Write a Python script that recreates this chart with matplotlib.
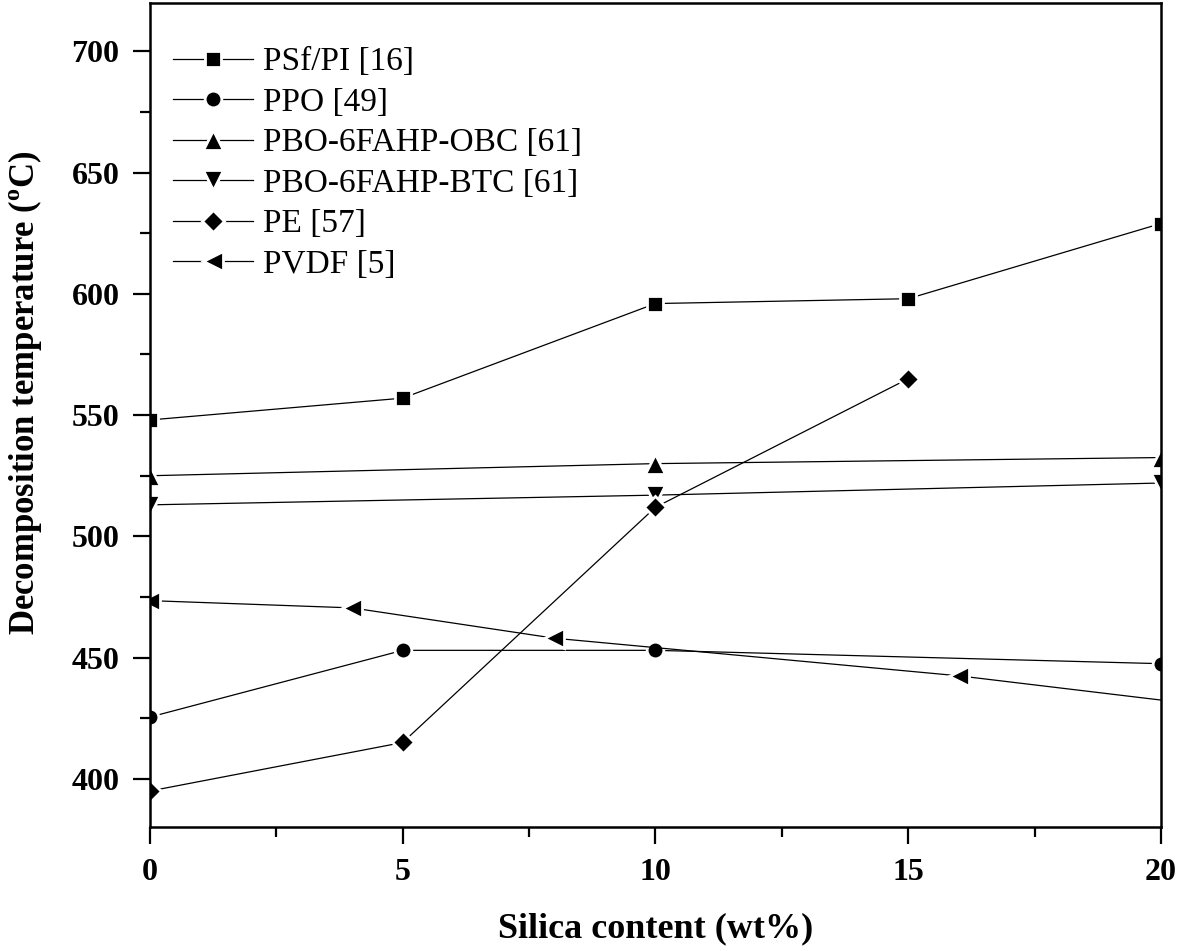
import matplotlib
matplotlib.use("Agg")
import matplotlib.pyplot as plt
from matplotlib.ticker import MultipleLocator

plt.rcParams['font.family'] = ['Liberation Serif', 'DejaVu Serif']
plt.rcParams['mathtext.fontset'] = 'custom'
plt.rcParams['mathtext.rm'] = 'Liberation Serif'
plt.rcParams['mathtext.bf'] = 'Liberation Serif:bold'

labels = ["PSf/PI [16]", "PPO [49]", "PBO-6FAHP-OBC [61]", "PBO-6FAHP-BTC [61]", "PE [57]", "PVDF [5]"]
markers = ["s", "o", "^", "v", "D", "<"]
msizes = [11, 12, 15, 15, 11, 15]

psf_x = [0, 5, 10, 15, 20]
psf_y = [548, 557, 596, 598, 629]
ppo_x = [0, 5, 10, 20]
ppo_y = [425.5, 453, 453, 447.5]
obc_x = [0, 10, 20]
obc_y = [525, 530, 532.5]
btc_x = [0, 10, 20]
btc_y = [513, 517, 522]
pe_x = [0, 5, 10, 15]
pe_y = [395, 415, 512, 565]
pvdf_x = [0, 4, 8, 16, 20]
pvdf_y = [473.5, 470.5, 458, 442.5, 432.5]

series = [(psf_x, psf_y), (ppo_x, ppo_y), (obc_x, obc_y), (btc_x, btc_y), (pe_x, pe_y), (pvdf_x, pvdf_y)]

fig = plt.figure(figsize=(11.81, 9.51), dpi=100)
ax = fig.add_axes([0.127, 0.130, 0.856, 0.867])

for (x, y), lab, m, ms in zip(series, labels, markers, msizes):
    me = list(range(len(x)))
    if lab.startswith("PVDF"):
        me = me[:-1]
    ax.plot(x, y, color='black', lw=0.9, marker=m, ms=ms, mfc='black',
            mec='white', mew=2.0, markevery=me, label=lab)

ax.set_xlim(0, 20)
ax.set_ylim(380, 720)
ax.xaxis.set_major_locator(MultipleLocator(5))
ax.xaxis.set_minor_locator(MultipleLocator(2.5))
ax.yaxis.set_minor_locator(MultipleLocator(25))
ax.set_yticks(range(400, 701, 50))
ax.tick_params(which='major', direction='out', length=12, width=1.6, labelsize=23, pad=10)
ax.tick_params(which='minor', direction='out', length=7, width=1.6)
for lbl in ax.get_xticklabels() + ax.get_yticklabels():
    lbl.set_fontweight('bold')
for s in ax.spines.values():
    s.set_linewidth(1.8)

ax.set_xlabel('Silica content (wt%)', fontsize=26, fontweight='bold')
ax.set_ylabel(r'Decomposition temperature ($^{\mathbf{o}}$C)', fontsize=25, fontweight='bold')
ax.xaxis.set_label_coords(0.5, -0.103)
ax.yaxis.set_label_coords(-0.105, 0.527)

leg = ax.legend(loc='upper left', frameon=False, fontsize=24, handlelength=2.4,
                handletextpad=0.3, labelspacing=0.3, borderaxespad=0.3,
                bbox_to_anchor=(0.0, 0.975))
for h in leg.legend_handles:
    h.set_markeredgecolor('white')

fig.savefig('out.png', dpi=100)
